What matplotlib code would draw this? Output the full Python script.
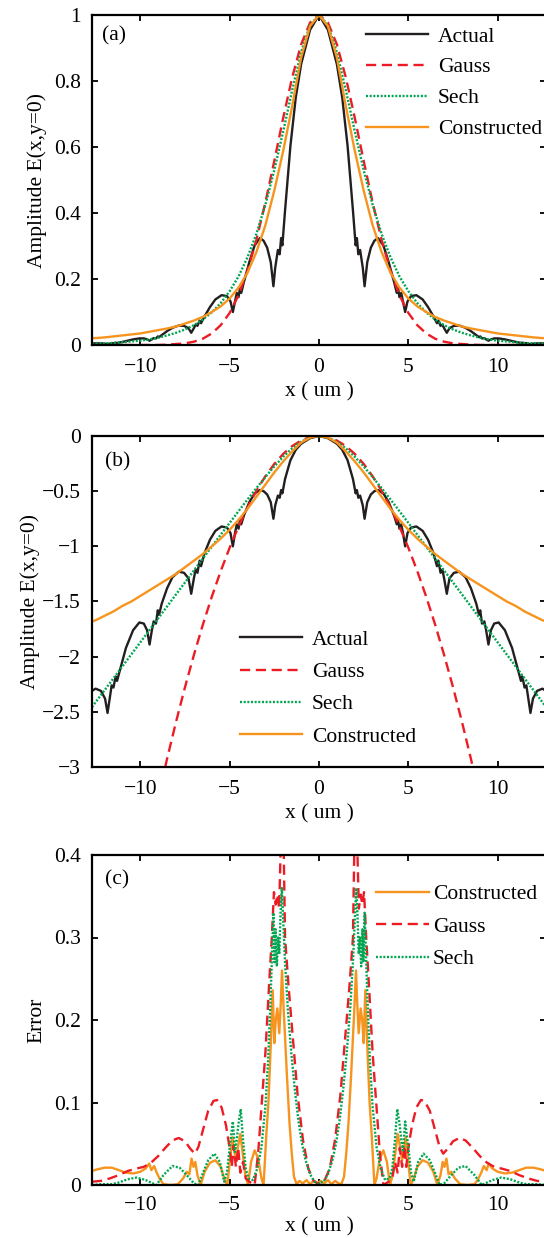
import matplotlib
matplotlib.use("Agg")
import matplotlib.pyplot as plt

plt.rcParams['font.family'] = ['Liberation Serif', 'DejaVu Serif']

# ---- colours ----
C_ACT = '#231F20'
C_GAU = '#ED1C24'
C_SECH = '#00A651'
C_CON = '#F7941D'

# ---- panel (a) / (b): fitted profiles on a common grid ----
x_fit = [-12.7, -12.5, -12.0, -11.5, -11.0, -10.5, -10.0, -9.5, -9.0, -8.5, -8.0, -7.5, -7.0,
         -6.5, -6.0, -5.5, -5.0, -4.5, -4.0, -3.5, -3.0, -2.5, -2.0, -1.5, -1.0, -0.5, 0.0,
         0.5, 1.0, 1.5, 2.0, 2.5, 3.0, 3.5, 4.0, 4.5, 5.0, 5.5, 6.0, 6.5, 7.0,
         7.5, 8.0, 8.5, 9.0, 9.5, 10.0, 10.5, 11.0, 11.5, 12.0, 12.5, 12.7]

gauss_a = [0.000, 0.000, 0.000, 0.000, 0.000, 0.000, 0.000, 0.000, 0.000, 0.001, 0.003, 0.005, 0.010,
           0.019, 0.035, 0.060, 0.097, 0.151, 0.225, 0.319, 0.432, 0.558, 0.689, 0.811, 0.911, 0.977, 1.000,
           0.977, 0.911, 0.811, 0.689, 0.558, 0.432, 0.319, 0.225, 0.151, 0.097, 0.060, 0.035, 0.019, 0.010,
           0.005, 0.003, 0.001, 0.000, 0.000, 0.000, 0.000, 0.000, 0.000, 0.000, 0.000, 0.000]

sech_a = [0.003, 0.004, 0.005, 0.006, 0.008, 0.011, 0.013, 0.017, 0.022, 0.029, 0.037, 0.047, 0.060,
          0.077, 0.099, 0.127, 0.163, 0.208, 0.266, 0.337, 0.425, 0.530, 0.648, 0.772, 0.887, 0.970, 1.000,
          0.970, 0.887, 0.772, 0.648, 0.530, 0.425, 0.337, 0.266, 0.208, 0.163, 0.127, 0.099, 0.077, 0.060,
          0.047, 0.037, 0.029, 0.022, 0.017, 0.013, 0.011, 0.008, 0.006, 0.005, 0.004, 0.003]

cons_a = [0.021, 0.021, 0.023, 0.026, 0.029, 0.032, 0.035, 0.040, 0.045, 0.050, 0.056, 0.065, 0.074,
          0.085, 0.100, 0.117, 0.141, 0.174, 0.219, 0.282, 0.363, 0.468, 0.589, 0.724, 0.871, 0.966, 1.000,
          0.966, 0.871, 0.724, 0.589, 0.468, 0.363, 0.282, 0.219, 0.174, 0.141, 0.117, 0.100, 0.085, 0.074,
          0.065, 0.056, 0.050, 0.045, 0.040, 0.035, 0.032, 0.029, 0.026, 0.023, 0.021, 0.021]

sech_b = [-2.457, -2.413, -2.305, -2.196, -2.088, -1.979, -1.871, -1.762, -1.653, -1.545, -1.436, -1.328, -1.219,
          -1.111, -1.003, -0.895, -0.788, -0.681, -0.575, -0.472, -0.372, -0.276, -0.188, -0.112, -0.052, -0.013, 0.0,
          -0.013, -0.052, -0.112, -0.188, -0.276, -0.372, -0.472, -0.575, -0.681, -0.788, -0.895, -1.003, -1.111, -1.219,
          -1.328, -1.436, -1.545, -1.653, -1.762, -1.871, -1.979, -2.088, -2.196, -2.305, -2.413, -2.457]

cons_b = [-1.68, -1.67, -1.63, -1.59, -1.54, -1.50, -1.45, -1.40, -1.35, -1.30, -1.25, -1.19, -1.13,
          -1.07, -1.00, -0.93, -0.85, -0.76, -0.66, -0.55, -0.44, -0.33, -0.23, -0.14, -0.06, -0.015, 0.0,
          -0.015, -0.06, -0.14, -0.23, -0.33, -0.44, -0.55, -0.66, -0.76, -0.85, -0.93, -1.00, -1.07, -1.13,
          -1.19, -1.25, -1.30, -1.35, -1.40, -1.45, -1.50, -1.54, -1.59, -1.63, -1.67, -1.68]

x_gauss_b = [-9.0, -8.5, -8.0, -7.5, -7.0, -6.5, -6.0, -5.5, -5.0, -4.5, -4.0, -3.5, -3.0, -2.5, -2.0,
             -1.5, -1.0, -0.5, 0.0, 0.5, 1.0, 1.5, 2.0, 2.5, 3.0, 3.5, 4.0, 4.5, 5.0, 5.5, 6.0,
             6.5, 7.0, 7.5, 8.0, 8.5, 9.0]
gauss_b = [-3.281, -2.926, -2.592, -2.278, -1.985, -1.711, -1.458, -1.225, -1.013, -0.820, -0.648, -0.496,
           -0.365, -0.253, -0.162, -0.091, -0.041, -0.010, 0.0, -0.010, -0.041, -0.091, -0.162, -0.253,
           -0.365, -0.496, -0.648, -0.820, -1.013, -1.225, -1.458, -1.711, -1.985, -2.278, -2.592,
           -2.926, -3.281]

# ---- actual field profile ----
x_act = [-12.7, -12.5, -12.2, -11.97, -11.83, -11.7, -11.6, -11.5, -11.38, -11.3, -11.1, -10.8, -10.4,
         -10.05, -9.8, -9.62, -9.48, -9.35, -9.25, -9.12, -9.02, -8.95, -8.8, -8.5, -8.2, -7.85,
         -7.55, -7.3, -7.15, -7.0, -6.9, -6.8, -6.68, -6.6, -6.4, -6.1, -5.8, -5.45, -5.15, -4.95,
         -4.82, -4.7, -4.6, -4.5, -4.42, -4.35, -4.2, -3.9, -3.6, -3.3, -3.1, -2.9, -2.7, -2.55,
         -2.45, -2.3, -2.2, -2.12, -2.05, -1.9, -1.6, -1.3, -1.0, -0.5, 0.0,
         0.5, 1.0, 1.3, 1.6, 1.9, 2.05, 2.12, 2.2, 2.3, 2.45, 2.55, 2.7, 2.9, 3.1, 3.3, 3.6, 3.9,
         4.2, 4.35, 4.42, 4.5, 4.6, 4.7, 4.82, 4.95, 5.15, 5.45, 5.8, 6.1, 6.4, 6.6, 6.68, 6.8,
         6.9, 7.0, 7.15, 7.3, 7.55, 7.85, 8.2, 8.5, 8.8, 8.95, 9.02, 9.12, 9.25, 9.35, 9.48, 9.62,
         9.8, 10.05, 10.4, 10.8, 11.1, 11.3, 11.38, 11.5, 11.6, 11.7, 11.83, 11.97, 12.2, 12.5, 12.7]

act_a = [0.005, 0.005, 0.005, 0.004, 0.003, 0.004, 0.006, 0.005, 0.007, 0.006, 0.008, 0.012, 0.017,
         0.020, 0.020, 0.017, 0.013, 0.017, 0.021, 0.020, 0.026, 0.024, 0.030, 0.042, 0.052, 0.059,
         0.058, 0.051, 0.037, 0.051, 0.062, 0.058, 0.074, 0.066, 0.087, 0.115, 0.138, 0.151, 0.148, 0.132,
         0.100, 0.132, 0.158, 0.145, 0.174, 0.158, 0.191, 0.251, 0.302, 0.324, 0.316, 0.295, 0.251, 0.178,
         0.234, 0.288, 0.275, 0.324, 0.302, 0.407, 0.603, 0.750, 0.851, 0.955, 1.000,
         0.955, 0.851, 0.750, 0.603, 0.407, 0.302, 0.324, 0.275, 0.288, 0.234, 0.178, 0.251, 0.295, 0.316,
         0.324, 0.302, 0.251, 0.191, 0.158, 0.174, 0.145, 0.158, 0.132, 0.100, 0.132, 0.148, 0.151, 0.138,
         0.115, 0.087, 0.066, 0.074, 0.058, 0.062, 0.051, 0.037, 0.051, 0.058, 0.059, 0.052, 0.042, 0.030,
         0.024, 0.026, 0.020, 0.021, 0.017, 0.013, 0.017, 0.020, 0.020, 0.017, 0.012, 0.008, 0.006, 0.007,
         0.005, 0.006, 0.004, 0.003, 0.004, 0.005, 0.005, 0.005]

act_b = [-2.31, -2.29, -2.31, -2.38, -2.51, -2.37, -2.26, -2.28, -2.18, -2.22, -2.10, -1.92, -1.76,
         -1.69, -1.70, -1.76, -1.89, -1.76, -1.68, -1.70, -1.58, -1.62, -1.52, -1.38, -1.28, -1.23,
         -1.24, -1.29, -1.43, -1.29, -1.21, -1.24, -1.13, -1.18, -1.06, -0.94, -0.86, -0.82, -0.83, -0.88,
         -1.00, -0.88, -0.80, -0.84, -0.76, -0.80, -0.72, -0.60, -0.52, -0.49, -0.50, -0.53, -0.60, -0.75,
         -0.63, -0.54, -0.56, -0.49, -0.52, -0.39, -0.22, -0.125, -0.07, -0.02, 0.0,
         -0.02, -0.07, -0.125, -0.22, -0.39, -0.52, -0.49, -0.56, -0.54, -0.63, -0.75, -0.60, -0.53, -0.50,
         -0.49, -0.52, -0.60, -0.72, -0.80, -0.76, -0.84, -0.80, -0.88, -1.00, -0.88, -0.83, -0.82, -0.86,
         -0.94, -1.06, -1.18, -1.13, -1.24, -1.21, -1.29, -1.43, -1.29, -1.24, -1.23, -1.28, -1.38, -1.52,
         -1.62, -1.58, -1.70, -1.68, -1.76, -1.89, -1.76, -1.70, -1.69, -1.76, -1.92, -2.10, -2.22, -2.18,
         -2.28, -2.26, -2.37, -2.51, -2.38, -2.31, -2.29, -2.31]

# ---- panel (c): errors ----
x_err_con = [-12.7, -12.4, -12.0, -11.6, -11.2, -10.8, -10.4, -10.0, -9.7, -9.5, -9.38, -9.22, -9.08,
             -8.9, -8.7, -8.3, -7.9, -7.6, -7.4, -7.25, -7.13, -7.02, -6.92, -6.8, -6.62, -6.4, -6.1,
             -5.8, -5.5, -5.3, -5.13, -4.98, -4.85, -4.75, -4.65, -4.52, -4.4, -4.28, -4.12, -3.97,
             -3.8, -3.6, -3.4, -3.22, -3.1, -2.95, -2.83, -2.68, -2.59, -2.5, -2.42, -2.33, -2.22,
             -2.14, -2.07, -1.97, -1.8, -1.65, -1.53, -1.4, -1.25, -1.1, -0.9, -0.7, -0.5, -0.3, -0.1,
             0.1, 0.3, 0.5, 0.7, 0.9, 1.1, 1.25, 1.4, 1.53, 1.65, 1.8, 1.97, 2.07, 2.14, 2.22, 2.33,
             2.42, 2.5, 2.59, 2.68, 2.83, 2.95, 3.1, 3.22, 3.4, 3.6, 3.8, 3.97, 4.12, 4.28, 4.4, 4.52,
             4.65, 4.75, 4.85, 4.98, 5.13, 5.3, 5.5, 5.8, 6.1, 6.4, 6.62, 6.8, 6.92, 7.02, 7.13, 7.25,
             7.4, 7.6, 7.9, 8.3, 8.7, 8.9, 9.08, 9.22, 9.38, 9.5, 9.7, 10.0, 10.4, 10.8, 11.2, 11.6,
             12.0, 12.4, 12.7]
err_con = [0.017, 0.019, 0.021, 0.021, 0.018, 0.015, 0.014, 0.016, 0.020, 0.026, 0.018, 0.023, 0.015,
           0.007, 0.001, 0.000, 0.001, 0.008, 0.016, 0.013, 0.032, 0.022, 0.028, 0.012, 0.000, 0.016, 0.027,
           0.030, 0.022, 0.008, 0.000, 0.030, 0.058, 0.042, 0.030, 0.048, 0.062, 0.040, 0.012, 0.000,
           0.028, 0.042, 0.032, 0.008, 0.000, 0.060, 0.100, 0.180, 0.236, 0.172, 0.200, 0.214, 0.184,
           0.220, 0.260, 0.210, 0.135, 0.075, 0.040, 0.010, 0.001, 0.005, 0.002, 0.006, 0.001, 0.005, 0.002,
           0.005, 0.002, 0.006, 0.001, 0.005, 0.002, 0.001, 0.010, 0.040, 0.075, 0.135, 0.210, 0.260, 0.220,
           0.184, 0.214, 0.200, 0.172, 0.236, 0.180, 0.100, 0.060, 0.000, 0.008, 0.032, 0.042, 0.028, 0.000,
           0.012, 0.040, 0.062, 0.048, 0.030, 0.042, 0.058, 0.030, 0.000, 0.008, 0.022, 0.030, 0.027, 0.016,
           0.000, 0.012, 0.028, 0.022, 0.032, 0.013, 0.016, 0.008, 0.001, 0.000, 0.001, 0.007, 0.015, 0.023,
           0.018, 0.026, 0.020, 0.016, 0.014, 0.015, 0.018, 0.021, 0.021, 0.019, 0.017]

x_err_gau = [-12.7, -12.2, -11.7, -11.2, -10.7, -10.2, -9.8, -9.4, -9.0, -8.6, -8.2, -7.85, -7.5, -7.2,
             -6.95, -6.75, -6.5, -6.2, -5.9, -5.7, -5.45, -5.2, -5.0, -4.88, -4.78, -4.65, -4.52, -4.4,
             -4.25, -4.1, -3.9, -3.6, -3.4, -3.2, -3.0, -2.8, -2.64, -2.52, -2.42, -2.33, -2.23, -2.13,
             -2.05, -1.97, -1.9, -1.7, -1.45, -1.2, -0.9, -0.6, -0.3, 0.0,
             0.3, 0.6, 0.9, 1.2, 1.45, 1.7, 1.9, 1.97, 2.05, 2.13, 2.23, 2.33, 2.42, 2.52, 2.64, 2.8,
             3.0, 3.2, 3.4, 3.6, 3.9, 4.1, 4.25, 4.4, 4.52, 4.65, 4.78, 4.88, 5.0, 5.2, 5.45, 5.7, 5.9,
             6.2, 6.5, 6.75, 6.95, 7.2, 7.5, 7.85, 8.2, 8.6, 9.0, 9.4, 9.8, 10.2, 10.7, 11.2, 11.7,
             12.2, 12.7]
err_gau = [0.004, 0.005, 0.008, 0.012, 0.017, 0.020, 0.022, 0.027, 0.035, 0.045, 0.054, 0.057, 0.053, 0.044,
           0.038, 0.046, 0.066, 0.090, 0.102, 0.103, 0.094, 0.072, 0.045, 0.022, 0.048, 0.022, 0.045, 0.015,
           0.028, 0.008, 0.004, 0.000, 0.040, 0.100, 0.160, 0.240, 0.300, 0.355, 0.340, 0.352, 0.335, 0.420,
           0.450, 0.400, 0.300, 0.240, 0.175, 0.110, 0.055, 0.020, 0.005, 0.001,
           0.005, 0.020, 0.055, 0.110, 0.175, 0.240, 0.300, 0.400, 0.450, 0.420, 0.335, 0.352, 0.340, 0.355,
           0.300, 0.240, 0.160, 0.100, 0.040, 0.000, 0.004, 0.008, 0.028, 0.015, 0.045, 0.022, 0.048, 0.022,
           0.045, 0.072, 0.094, 0.103, 0.102, 0.090, 0.066, 0.046, 0.038, 0.044, 0.053, 0.057, 0.054, 0.045,
           0.035, 0.027, 0.022, 0.020, 0.017, 0.012, 0.008, 0.005, 0.004]

x_err_sech = [-12.7, -12.2, -11.6, -11.2, -10.7, -10.2, -9.7, -9.1, -8.7, -8.2, -7.8, -7.4, -7.0, -6.75,
              -6.5, -6.2, -5.85, -5.55, -5.3, -5.15, -5.0, -4.82, -4.7, -4.6, -4.5, -4.38, -4.25, -4.1,
              -3.95, -3.7, -3.45, -3.22, -3.0, -2.85, -2.72, -2.62, -2.55, -2.49, -2.43, -2.36, -2.29,
              -2.22, -2.15, -2.08, -2.0, -1.9, -1.75, -1.55, -1.35, -1.15, -0.95, -0.75, -0.5, -0.25, 0.0,
              0.25, 0.5, 0.75, 0.95, 1.15, 1.35, 1.55, 1.75, 1.9, 2.0, 2.08, 2.15, 2.22, 2.29, 2.36, 2.43,
              2.49, 2.55, 2.62, 2.72, 2.85, 3.0, 3.22, 3.45, 3.7, 3.95, 4.1, 4.25, 4.38, 4.5, 4.6, 4.7,
              4.82, 5.0, 5.15, 5.3, 5.55, 5.85, 6.2, 6.5, 6.75, 7.0, 7.4, 7.8, 8.2, 8.7, 9.1, 9.7, 10.2,
              10.7, 11.2, 11.6, 12.2, 12.7]
err_sech = [0.000, 0.001, 0.001, 0.003, 0.007, 0.009, 0.006, 0.000, 0.012, 0.023, 0.021, 0.012, 0.002, 0.000,
            0.014, 0.030, 0.038, 0.028, 0.004, 0.015, 0.045, 0.077, 0.040, 0.055, 0.075, 0.092, 0.055, 0.020,
            0.008, 0.006, 0.020, 0.046, 0.095, 0.150, 0.220, 0.285, 0.330, 0.270, 0.310, 0.265, 0.300,
            0.280, 0.330, 0.360, 0.320, 0.270, 0.215, 0.160, 0.115, 0.078, 0.050, 0.030, 0.013, 0.004, 0.002,
            0.004, 0.013, 0.030, 0.050, 0.078, 0.115, 0.160, 0.215, 0.270, 0.320, 0.360, 0.330, 0.280, 0.300,
            0.265, 0.310, 0.270, 0.330, 0.285, 0.220, 0.150, 0.095, 0.046, 0.020, 0.006, 0.008, 0.020, 0.055,
            0.092, 0.075, 0.055, 0.040, 0.077, 0.045, 0.015, 0.004, 0.028, 0.038, 0.030, 0.014, 0.000, 0.002,
            0.012, 0.021, 0.023, 0.012, 0.000, 0.006, 0.009, 0.007, 0.003, 0.001, 0.001, 0.000]

# ---- ticks ----
x_ticks = [-10, -5, 0, 5, 10]
x_tick_labels = ['\u221210', '\u22125', '0', '5', '10']
ya_ticks = [0, 0.2, 0.4, 0.6, 0.8, 1]
ya_labels = ['0', '0.2', '0.4', '0.6', '0.8', '1']
yb_ticks = [-3, -2.5, -2, -1.5, -1, -0.5, 0]
yb_labels = ['\u22123', '\u22122.5', '\u22122', '\u22121.5', '\u22121', '\u22120.5', '0']
yc_ticks = [0, 0.1, 0.2, 0.3, 0.4]
yc_labels = ['0', '0.1', '0.2', '0.3', '0.4']

FS = 15.5
LW = 1.7

W, H = 544, 1238
fig = plt.figure(figsize=(W / 100, H / 100), dpi=100)


def make_axes(top_px, bot_px):
    left = 92 / W
    width = (546 - 92) / W
    return fig.add_axes([left, 1 - bot_px / H, width, (bot_px - top_px) / H])


def style(ax, yt, yl, ylim, ylabel, xlab_y, xpad, ylab_x):
    ax.set_xlim(-12.7, 12.7)
    ax.set_ylim(*ylim)
    ax.set_xticks(x_ticks)
    ax.set_xticklabels(x_tick_labels, fontsize=FS)
    ax.set_yticks(yt)
    ax.set_yticklabels(yl, fontsize=FS)
    ax.tick_params(direction='in', top=True, right=True, length=4, width=1.3)
    ax.tick_params(axis='x', pad=xpad)
    ax.tick_params(axis='y', pad=8)
    for s in ax.spines.values():
        s.set_linewidth(1.6)
    ax.set_xlabel('x ( um )', fontsize=FS)
    ax.xaxis.set_label_coords(0.5, xlab_y)
    ax.set_ylabel(ylabel, fontsize=FS)
    ax.yaxis.set_label_coords(ylab_x, 0.5)


dash_g = (4.3, 2.4)
dot_s = (0.85, 0.7)

# (a)
ax1 = make_axes(15, 345)
ax1.plot(x_act, act_a, color=C_ACT, lw=LW, label='Actual')
ax1.plot(x_fit, gauss_a, color=C_GAU, lw=LW, dashes=dash_g, label='Gauss')
ax1.plot(x_fit, sech_a, color=C_SECH, lw=LW, dashes=dot_s, label='Sech')
ax1.plot(x_fit, cons_a, color=C_CON, lw=LW, label='Constructed')
style(ax1, ya_ticks, ya_labels, (0, 1), 'Amplitude E(x,y=0)', -0.112, 9, -0.1)
ax1.text(0.0485, 0.936, '(a)', transform=ax1.transAxes, ha='center', va='center', fontsize=FS)
ax1.legend(loc='upper left', bbox_to_anchor=(0.6035, 0.965), frameon=False, fontsize=FS,
           handlelength=2.9, handletextpad=0.43, borderpad=0, borderaxespad=0, labelspacing=0.5)

# (b)
ax2 = make_axes(436, 767)
ax2.plot(x_act, act_b, color=C_ACT, lw=LW, label='Actual')
ax2.plot(x_gauss_b, gauss_b, color=C_GAU, lw=LW, dashes=dash_g, label='Gauss')
ax2.plot(x_fit, sech_b, color=C_SECH, lw=LW, dashes=dot_s, label='Sech')
ax2.plot(x_fit, cons_b, color=C_CON, lw=LW, label='Constructed')
style(ax2, yb_ticks, yb_labels, (-3, 0), 'Amplitude E(x,y=0)', -0.112, 9, -0.114)
ax2.text(0.057, 0.921, '(b)', transform=ax2.transAxes, ha='center', va='center', fontsize=FS)
ax2.legend(loc='upper left', bbox_to_anchor=(0.326, 0.415), frameon=False, fontsize=FS,
           handlelength=2.9, handletextpad=0.43, borderpad=0, borderaxespad=0, labelspacing=0.57)

# (c)
ax3 = make_axes(855, 1185)
ax3.plot(x_err_con, err_con, color=C_CON, lw=LW, label='Constructed')
ax3.plot(x_err_gau, err_gau, color=C_GAU, lw=LW, dashes=dash_g, label='Gauss')
ax3.plot(x_err_sech, err_sech, color=C_SECH, lw=LW, dashes=dot_s, label='Sech')
style(ax3, yc_ticks, yc_labels, (0, 0.4), 'Error', -0.098, 8, -0.1)
ax3.text(0.055, 0.924, '(c)', transform=ax3.transAxes, ha='center', va='center', fontsize=FS)
ax3.legend(loc='upper left', bbox_to_anchor=(0.6256, 0.911), frameon=False, fontsize=FS,
           handlelength=2.45, handletextpad=0.2, borderpad=0, borderaxespad=0, labelspacing=0.57)

fig.savefig('out.png', dpi=100)
